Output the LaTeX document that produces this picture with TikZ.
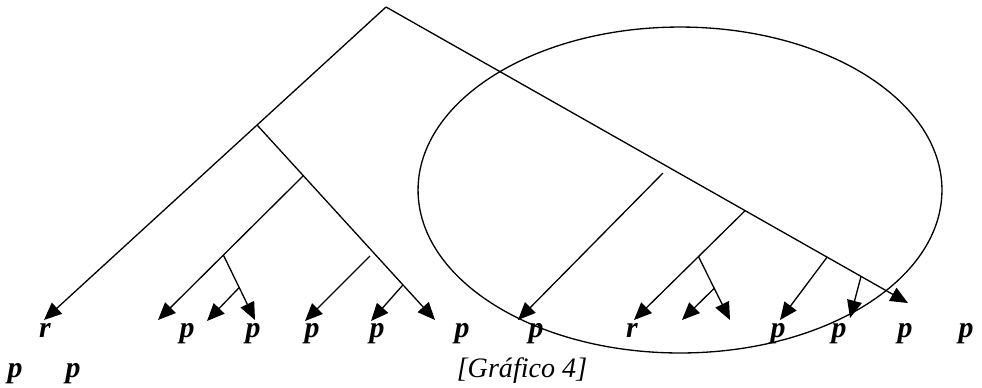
\documentclass[tikz,border=0pt]{standalone}
\usepackage{fontspec}
\setmainfont{Liberation Serif}
\usetikzlibrary{arrows.meta, calc}

\begin{document}
\begin{tikzpicture}[x=0.02cm, y=-0.02cm, >={Triangle[length=10pt, width=8.5pt]},
        leaf/.style={font=\fontsize{17}{20}\selectfont\bfseries\itshape, inner sep=0pt, anchor=base},
        branch/.style={->, line width=0.75pt}]
        \useasboundingbox (0,0) rectangle (982,387);

        % root and the two main branches
        \coordinate (top) at (386,7);
        \coordinate (endL) at (44,320);
        \coordinate (endR) at (908,303);

        % left subtree
        \coordinate (a1) at ($(top)!0.377!(endL)$);
        \coordinate (a1end) at (435,320);
        \coordinate (a2) at ($(a1)!0.26!(a1end)$);
        \coordinate (a2end) at (158,320);
        \coordinate (a3) at ($(a2)!0.55!(a2end)$);
        \coordinate (a3end) at (255,320);
        \coordinate (a4) at ($(a3)!0.5!(a3end)$);
        \coordinate (a4end) at (207,321);
        \coordinate (a5) at ($(a1)!0.82!(a1end)$);
        \coordinate (a5end) at (371,321);
        \coordinate (f1) at (370,256);
        \coordinate (f1end) at (305,321);

        % right subtree
        \coordinate (f2) at (663,173);
        \coordinate (f2end) at (518,320);
        \coordinate (c1) at ($(top)!0.688!(endR)$);
        \coordinate (c1end) at (634,320);
        \coordinate (c2) at ($(c1)!0.42!(c1end)$);
        \coordinate (c2end) at (730,320);
        \coordinate (c3) at ($(c2)!0.5!(c2end)$);
        \coordinate (c3end) at (682,320);
        \coordinate (c4) at ($(top)!0.845!(endR)$);
        \coordinate (c4end) at (780,320);
        \coordinate (c5) at ($(top)!0.91!(endR)$);
        \coordinate (c5end) at (850,318);

        \draw [branch] (top) -- (endL);
        \draw [branch] (top) -- (endR);
        \draw [branch] (a1) -- (a1end);
        \draw [branch] (a2) -- (a2end);
        \draw [branch] (a3) -- (a3end);
        \draw [branch] (a4) -- (a4end);
        \draw [branch] (a5) -- (a5end);
        \draw [branch] (f1) -- (f1end);
        \draw [branch] (f2) -- (f2end);
        \draw [branch] (c1) -- (c1end);
        \draw [branch] (c2) -- (c2end);
        \draw [branch] (c3) -- (c3end);
        \draw [branch] (c4) -- (c4end);
        \draw [branch] (c5) -- (c5end);

        % the ring
        \draw [line width=0.75pt] (680,190) ellipse [x radius=5.24cm, y radius=3.26cm];

        % leaves
        \node [leaf] (r1) at (45,337) {r};
        \node [leaf] (p1) at (187,337) {p};
        \node [leaf] (p2) at (253,337) {p};
        \node [leaf] (p3) at (312,337) {p};
        \node [leaf] (p4) at (377,337) {p};
        \node [leaf] (p5) at (462,337) {p};
        \node [leaf] (p6) at (536,337) {p};
        \node [leaf] (r2) at (632,337) {r};
        \node [leaf] (p7) at (778,337) {p};
        \node [leaf] (p8) at (839,337) {p};
        \node [leaf] (p9) at (905,337) {p};
        \node [leaf] (p10) at (966,337) {p};
        \node [leaf] (p11) at (15,377) {p};
        \node [leaf] (p12) at (73,377) {p};
        \node [font=\fontsize{16}{19}\selectfont\itshape, inner sep=0pt, anchor=base] (cap) at (522,377) {[Gráfico 4]};
\end{tikzpicture}
\end{document}
